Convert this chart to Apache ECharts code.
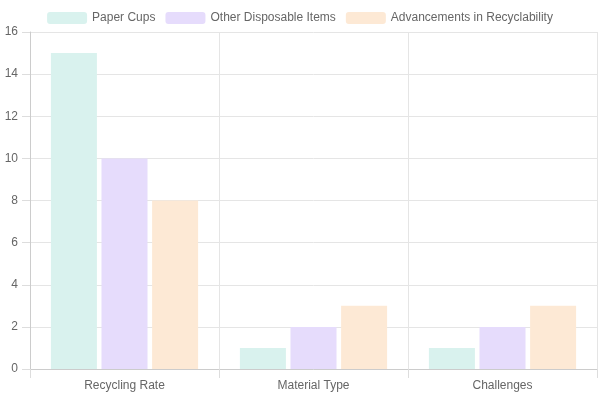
<!DOCTYPE html>
<html><head><meta charset="utf-8">
<script src="https://cdn.jsdelivr.net/npm/echarts@6/dist/echarts.min.js"></script>
<style>html,body{margin:0;padding:0}#c{width:600px;height:400px}</style>
</head><body><div id="c"></div>
<script>
const categories = ["Recycling Rate", "Material Type", "Challenges"];
const paperCups = [15, 1, 1];
const otherItems = [10, 2, 2];
const advancements = [8, 3, 3];
const seriesNames = ["Paper Cups", "Other Disposable Items", "Advancements in Recyclability"];
const colors = ["#d9f2ee", "#e6dcfc", "#fde9d5"];
const chart = echarts.init(document.getElementById('c'));
const mk = (name, data, color) => ({name, type: 'bar', data, barWidth: 46, barGap: '10%',
  itemStyle: {color}});
chart.setOption({
  animation: false,
  textStyle: {fontFamily: 'Liberation Sans, Arial, sans-serif'},
  legend: {top: 7, left: 'center', itemWidth: 40, itemHeight: 12, itemGap: 10,
    textStyle: {color: '#666', fontSize: 12},
    data: seriesNames.map((n, i) => ({name: n, itemStyle: {color: colors[i]}}))},
  grid: {left: 30, right: 3, top: 32, bottom: 31},
  xAxis: {type: 'category', data: categories,
    axisLine: {lineStyle: {color: '#ccc'}},
    axisTick: {show: true, length: 9, lineStyle: {color: '#ddd'}},
    splitLine: {show: true, lineStyle: {color: '#e5e5e5'}},
    axisLabel: {color: '#666', fontSize: 12, margin: 11}},
  yAxis: {type: 'value', min: 0, max: 16, interval: 2,
    axisLine: {show: true, lineStyle: {color: '#ccc'}},
    axisTick: {show: true, length: 8, lineStyle: {color: '#ddd'}},
    splitLine: {lineStyle: {color: '#e5e5e5'}},
    axisLabel: {color: '#666', fontSize: 12, margin: 12}},
  series: [mk(seriesNames[0], paperCups, colors[0]), mk(seriesNames[1], otherItems, colors[1]), mk(seriesNames[2], advancements, colors[2])]
});
</script></body></html>
